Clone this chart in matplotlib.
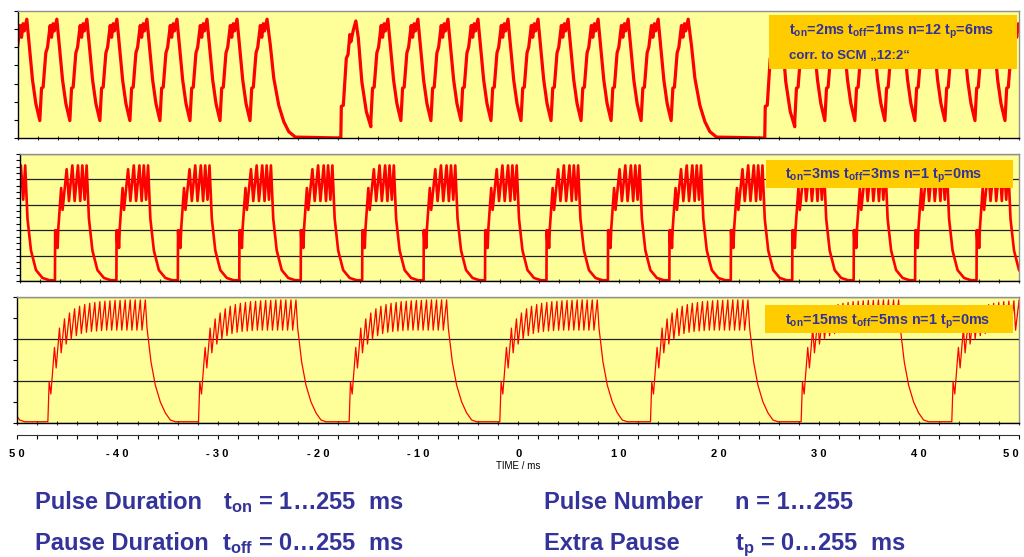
import numpy as np
import matplotlib
matplotlib.use('Agg')
import matplotlib.pyplot as plt
from matplotlib.patches import Rectangle
from matplotlib.ticker import MultipleLocator

plt.rcParams['font.family'] = ['Liberation Sans', 'DejaVu Sans']
plt.rcParams['mathtext.fontset'] = 'custom'
plt.rcParams['mathtext.rm'] = 'Liberation Sans'
plt.rcParams['mathtext.bf'] = 'Liberation Sans:bold'
plt.rcParams['mathtext.it'] = 'Liberation Sans:italic'

# ---- time axis ----
x_ticks = [-50, -40, -30, -20, -10, 0, 10, 20, 30, 40, 50]
x_tick_labels = ['5 0', '- 4 0', '- 3 0', '- 2 0', '- 1 0', '0',
                 '1 0', '2 0', '3 0', '4 0', '5 0']

# ---- panel 1: ton=2ms toff=1ms n=12 tp=6ms ----
p1_burst_starts = [-59.82, -17.75, 24.6]
p1_pulse_period = 3.0
p1_pulses = 12
# first pulse of a burst (rises from zero), time from rise / level
p1_first_rise_t = [0.00, 0.05, 0.25, 0.55, 0.72, 0.90, 1.00, 1.25, 1.50]
p1_first_rise_y = [0.00, 1.75, 1.80, 4.40, 4.60, 5.70, 5.30, 5.95, 6.45]
p1_first_fall_t = [0.00, 0.25, 0.60, 1.05, 1.50]
p1_first_fall_y = [6.45, 5.50, 3.10, 1.45, 0.62]
# following pulses (rise from trough)
p1_rise_t = [0.00, 0.17, 0.33, 0.60, 0.77, 1.03, 1.17, 1.33, 1.45, 1.70]
p1_rise_y = [0.96, 2.75, 2.80, 4.70, 5.00, 6.20, 5.55, 6.30, 5.90, 6.55]
p1_fall_t = [0.00, 0.23, 0.57, 0.90, 1.30]
p1_fall_y = [6.55, 5.20, 3.20, 1.90, 0.96]
# last pulse decays to zero (extra pause)
p1_tail_t = [0.00, 0.33, 0.67, 1.17, 1.67, 2.17, 2.83]
p1_tail_y = [6.55, 5.10, 3.30, 1.80, 0.90, 0.35, 0.05]

# ---- panel 2: ton=3ms toff=3ms n=1 tp=0ms ----
p2_rises = [-52.65, -46.5, -40.35, -34.2, -28.05, -21.9, -15.75, -9.6, -3.45,
            2.7, 8.85, 15.0, 21.15, 27.3, 33.45, 39.6, 45.75]
p2_cycle_t = [0.00, 0.02, 0.10, 0.18, 0.26, 0.34, 0.62, 0.76, 1.17, 1.40, 1.74,
              1.97, 2.30, 2.53, 2.74, 2.97, 3.17, 3.40, 3.75, 4.25, 4.90, 5.60]
p2_cycle_y = [0.03, 2.00, 1.40, 2.00, 1.30, 2.10, 3.66, 2.80, 4.40, 3.15, 4.55,
              3.15, 4.55, 3.15, 4.55, 3.20, 4.55, 2.45, 1.20, 0.43, 0.12, 0.03]

# ---- panel 3: ton=15ms toff=5ms n=1 tp=0ms ----
p3_rises = [-61.99, -46.95, -31.91, -16.87, -1.83, 13.21, 28.25, 43.29]
p3_peak_t = [0.13, 0.66, 1.16, 1.66, 2.16, 2.67, 3.17, 3.68, 4.18, 4.69,
             5.19, 5.70, 6.20, 6.71, 7.21, 7.72, 8.22, 8.72, 9.23, 9.73]
p3_peak_y = [0.98, 1.80, 2.26, 2.48, 2.62, 2.72, 2.78, 2.82, 2.85, 2.87,
             2.89, 2.90, 2.91, 2.92, 2.92, 2.93, 2.93, 2.93, 2.93, 2.93]
p3_dip_t = [0.30, 0.83, 1.33, 1.83, 2.33, 2.84, 3.34, 3.85, 4.35, 4.86,
            5.36, 5.87, 6.37, 6.88, 7.38, 7.89, 8.39, 8.89, 9.40]
p3_dip_y = [0.69, 1.31, 1.67, 1.88, 2.00, 2.08, 2.13, 2.16, 2.18, 2.19,
            2.20, 2.21, 2.21, 2.21, 2.21, 2.21, 2.21, 2.21, 2.21]
p3_fall_t = [0.00, 0.17, 0.57, 1.00, 1.50, 2.00, 2.50]
p3_fall_y = [2.93, 2.26, 1.45, 0.90, 0.50, 0.24, 0.07]
p3_base = 0.03

labels = [
    r'$\mathbf{t_{on}}$=2ms $\mathbf{t_{off}}$=1ms n=12 $\mathbf{t_{p}}$=6ms',
    r'$\mathbf{t_{on}}$=3ms $\mathbf{t_{off}}$=3ms n=1 $\mathbf{t_{p}}$=0ms',
    r'$\mathbf{t_{on}}$=15ms $\mathbf{t_{off}}$=5ms n=1 $\mathbf{t_{p}}$=0ms',
]
label_note = 'corr. to SCM \u201e12:2\u201c'

RED = '#FF0000'
YEL = '#FFFF99'
BOX = '#FFCC00'
NAVY = '#333399'

W, H = 1024, 557
fig = plt.figure(figsize=(W / 100, H / 100), dpi=100)


def px_axes(left, top, right, bottom):
    return fig.add_axes([left / W, 1 - bottom / H, (right - left) / W, (bottom - top) / H])


def fx(x):
    return x / W


def fy(y):
    return 1 - y / H


def build_p1():
    ts, ys = [], []
    for b in p1_burst_starts:
        for i in range(p1_pulses):
            t0 = b + i * p1_pulse_period
            if i == 0:
                rt, ry = p1_first_rise_t, p1_first_rise_y
                ft, fyy = p1_first_fall_t, p1_first_fall_y
            else:
                rt, ry = p1_rise_t, p1_rise_y
                ft, fyy = p1_fall_t, p1_fall_y
            if i == p1_pulses - 1:
                ft, fyy = p1_tail_t, p1_tail_y
            ts.append(t0 + np.array(rt))
            ys.append(np.array(ry))
            ts.append(t0 + rt[-1] + np.array(ft[1:]))
            ys.append(np.array(fyy[1:]))
    return np.concatenate(ts), np.concatenate(ys)


def build_p2():
    ts = [r + np.array(p2_cycle_t) for r in p2_rises]
    ys = [np.array(p2_cycle_y) for r in p2_rises]
    return np.concatenate(ts), np.concatenate(ys)


def build_p3():
    ts, ys = [], []
    for r in p3_rises:
        tt = [r]
        yy = [p3_base]
        for k in range(len(p3_peak_t)):
            tt.append(r + p3_peak_t[k])
            yy.append(p3_peak_y[k])
            if k < len(p3_dip_t):
                tt.append(r + p3_dip_t[k])
                yy.append(p3_dip_y[k])
        last = r + p3_peak_t[-1]
        for a, v in zip(p3_fall_t[1:], p3_fall_y[1:]):
            tt.append(last + a)
            yy.append(v)
        tt.append(last + p3_fall_t[-1] + 0.5)
        yy.append(p3_base)
        ts.append(np.array(tt))
        ys.append(np.array(yy))
    return np.concatenate(ts), np.concatenate(ys)


def style_panel(ax, ymax, ymajor, yminor, grid):
    ax.set_facecolor(YEL)
    ax.set_xlim(-50, 50)
    ax.set_ylim(0, ymax)
    ax.xaxis.set_major_locator(MultipleLocator(10))
    ax.xaxis.set_minor_locator(MultipleLocator(2))
    ax.yaxis.set_major_locator(MultipleLocator(ymajor))
    if yminor:
        ax.yaxis.set_minor_locator(MultipleLocator(yminor))
    ax.tick_params(axis='x', which='both', direction='inout', length=3,
                   width=0.8, labelbottom=False, color='#333333')
    ax.tick_params(axis='y', which='both', direction='out', length=3,
                   width=0.8, labelleft=False)
    for s in ['top', 'right']:
        ax.spines[s].set_color('#909090')
        ax.spines[s].set_linewidth(1.0)
    for s in ['left', 'bottom']:
        ax.spines[s].set_color('black')
        ax.spines[s].set_linewidth(1.0)
    if grid:
        ax.grid(axis='y', which='major', color='#202020', linewidth=0.9)
        ax.set_axisbelow(True)


ax1 = px_axes(18, 11, 1019, 138)
style_panel(ax1, 7, 1, None, False)
t, y = build_p1()
ax1.plot(t, y, color=RED, lw=2.3, solid_joinstyle='round')

ax2 = px_axes(20, 154, 1019, 281)
style_panel(ax2, 5, 1, 0.25, True)
t, y = build_p2()
ax2.plot(t, y, color=RED, lw=1.9, solid_joinstyle='round')

ax3 = px_axes(17.3, 297, 1019, 423)
style_panel(ax3, 3, 1, 0.5, True)
t, y = build_p3()
ax3.plot(t, y, color=RED, lw=0.9)

# label boxes
for (l, t_, r, b) in [(769, 15, 1017, 69), (766, 160, 1013, 188), (765, 305, 1013, 333)]:
    fig.patches.append(Rectangle((fx(l), fy(b)), fx(r) - fx(l), fy(t_) - fy(b),
                                 transform=fig.transFigure, facecolor=BOX,
                                 edgecolor='none', zorder=5))

fig.text(fx(789), fy(35), labels[0], fontsize=10.4, fontweight='bold', color=NAVY,
         va='baseline', zorder=6)
fig.text(fx(789), fy(59), label_note, fontsize=9.5, fontweight='bold',
         color=NAVY, va='baseline', zorder=6)
fig.text(fx(785), fy(179), labels[1], fontsize=10.4, fontweight='bold', color=NAVY,
         va='baseline', zorder=6)
fig.text(fx(785), fy(325), labels[2], fontsize=10.4, fontweight='bold', color=NAVY,
         va='baseline', zorder=6)

# time scale
axs = px_axes(17.3, 434, 1019, 435)
axs.set_xlim(-50, 50)
axs.set_yticks([])
for s in ['top', 'right', 'left']:
    axs.spines[s].set_visible(False)
axs.spines['bottom'].set_color('#333333')
axs.patch.set_alpha(0)
axs.set_xticks(x_ticks)
axs.set_xticklabels(x_tick_labels, fontsize=8, fontweight='bold')
axs.get_xticklabels()[-1].set_horizontalalignment('right')
axs.xaxis.set_minor_locator(MultipleLocator(2))
axs.tick_params(axis='x', which='both', direction='out', length=3, width=0.8, pad=7)
fig.text(fx(518), fy(466), 'TIME / ms', fontsize=7, ha='center', va='center')

# parameter legend
FS = 17
fig.text(fx(35), fy(509), 'Pulse Duration', fontsize=FS, fontweight='bold', color=NAVY, va='baseline')
fig.text(fx(223), fy(509), r'$\mathbf{t_{on}}$ = 1' + '\u2026255  ms', fontsize=FS,
         fontweight='bold', color=NAVY, va='baseline')
fig.text(fx(35), fy(550), 'Pause Duration', fontsize=FS, fontweight='bold', color=NAVY, va='baseline')
fig.text(fx(222), fy(550), r'$\mathbf{t_{off}}$ = 0' + '\u2026255  ms', fontsize=FS,
         fontweight='bold', color=NAVY, va='baseline')
fig.text(fx(544), fy(509), 'Pulse Number', fontsize=FS, fontweight='bold', color=NAVY, va='baseline')
fig.text(fx(735), fy(509), 'n = 1\u2026255', fontsize=FS, fontweight='bold', color=NAVY, va='baseline')
fig.text(fx(544), fy(550), 'Extra Pause', fontsize=FS, fontweight='bold', color=NAVY, va='baseline')
fig.text(fx(735), fy(550), r'$\mathbf{t_{p}}$ = 0' + '\u2026255  ms', fontsize=FS,
         fontweight='bold', color=NAVY, va='baseline')

fig.savefig('out.png', dpi=100)
